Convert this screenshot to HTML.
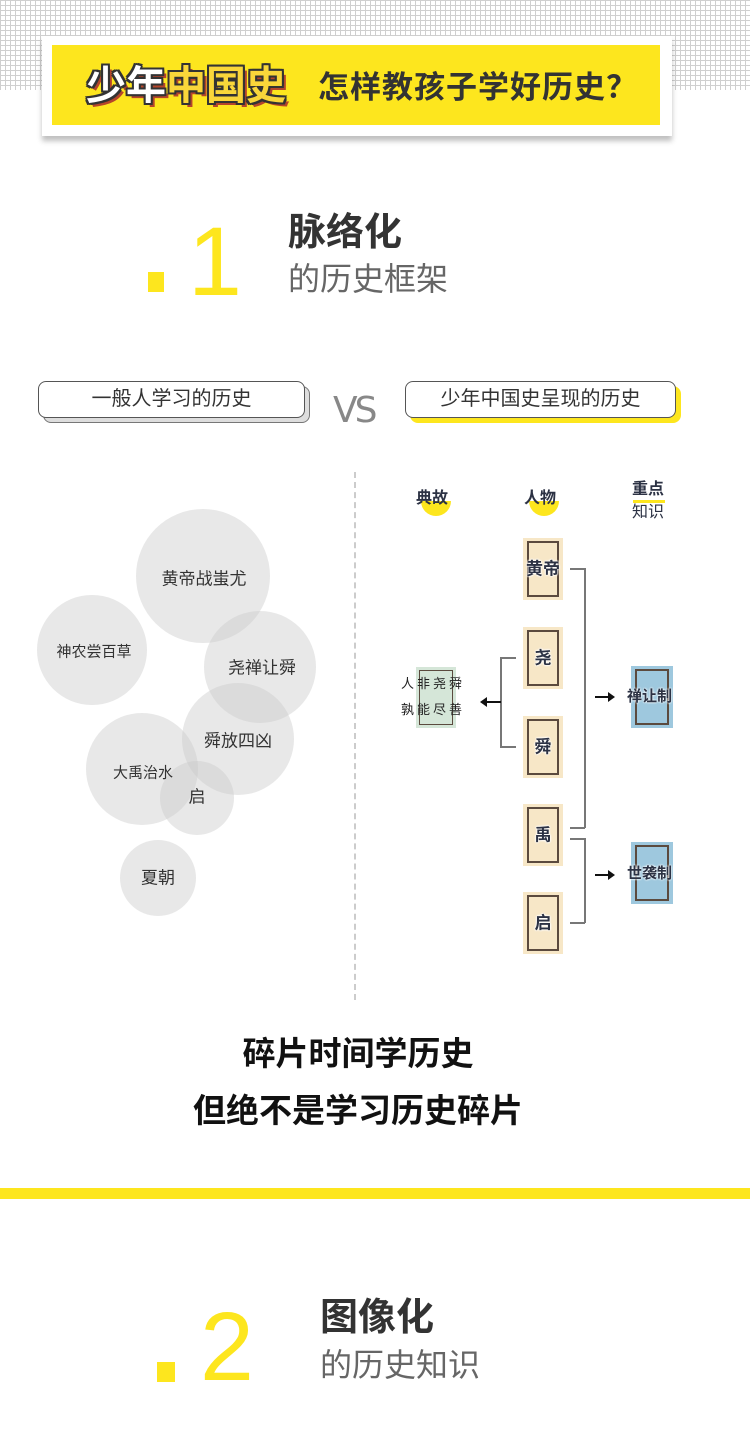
<!DOCTYPE html>
<html><head><meta charset="utf-8">
<style>
*{margin:0;padding:0;box-sizing:border-box}
body{width:750px;height:1445px;background:#fff;position:relative;overflow:hidden;font-family:"Liberation Sans","Noto Sans CJK SC",sans-serif}
.a{position:absolute}
.grid{left:0;top:0;width:750px;height:90px;background-color:#fff;background-image:linear-gradient(#cfcfcf 1px,transparent 1px),linear-gradient(90deg,#cfcfcf 1px,transparent 1px);background-size:5px 5px}
.t{white-space:nowrap;line-height:1}
.circ{border-radius:50%;background:rgba(200,200,200,0.42)}
.ct{position:absolute;white-space:nowrap;color:#333;font-size:17px;line-height:1;transform:translate(-50%,-50%)}
.pb{background:#f7e7c7;width:40px;height:62px}
.pb:after{content:"";position:absolute;left:4px;top:3px;right:4px;bottom:3px;border:2px solid #5b4a3e}
.pt{position:absolute;left:-4px;width:48px;text-align:center;top:50%;transform:translateY(-50%);font-size:17px;font-weight:bold;color:#2c3244;z-index:2;line-height:1;text-shadow:0 0 2px #fff,0 0 2px #fff,0 0 2px #fff}
.ln{background:#777}
.logo{text-shadow:-2px -2px 0 #333,2px -2px 0 #333,-2px 2px 0 #333,2px 2px 0 #333,0 -2px 0 #333,0 2px 0 #333,-2px 0 0 #333,2px 0 0 #333,4px 4px 0 #b5452a}
</style></head><body>
<div class="a grid"></div>
<div class="a" style="left:42px;top:36px;width:630px;height:100px;background:#fff;box-shadow:0 5px 5px rgba(0,0,0,0.25)"></div>
<div class="a" style="left:52px;top:45px;width:608px;height:80px;background:#fde61e"></div>
<div class="a t logo" style="left:86px;top:66px;font-size:40px;font-weight:bold;color:#fff">少年<span style="color:#f9d63a">中国史</span></div>
<div class="a t" style="left:318px;top:72px;font-size:31px;font-weight:bold;color:#333;letter-spacing:1px">怎样教孩子学好历史？</div>

<div class="a" style="left:148px;top:272px;width:16px;height:20px;background:#fde61e"></div>
<div class="a t" style="left:188px;top:213px;font-size:97px;color:#fde61e">1</div>
<div class="a t" style="left:288px;top:214px;font-size:38px;font-weight:bold;color:#333">脉络化</div>
<div class="a t" style="left:288px;top:263px;font-size:32px;color:#666">的历史框架</div>

<div class="a" style="left:43px;top:386px;width:267px;height:37px;border-radius:8px;background:#ddd;border:1px solid #777"></div>
<div class="a" style="left:38px;top:381px;width:267px;height:37px;border-radius:8px;background:#fff;border:1.5px solid #555;font-size:20px;color:#333;text-align:center;line-height:35px">一般人学习的历史</div>
<div class="a t" style="left:333px;top:393px;font-size:36px;color:#888;font-family:'DejaVu Sans',sans-serif;letter-spacing:-3px">VS</div>
<div class="a" style="left:410px;top:386px;width:271px;height:37px;border-radius:8px;background:#fde61e"></div>
<div class="a" style="left:405px;top:381px;width:271px;height:37px;border-radius:8px;background:#fff;border:1.5px solid #555;font-size:20px;color:#333;text-align:center;line-height:35px">少年中国史呈现的历史</div>

<div class="a" style="left:354px;top:472px;height:528px;border-left:2px dashed #ccc"></div>

<div class="a circ" style="left:136px;top:509px;width:134px;height:134px"></div>
<div class="a circ" style="left:37px;top:595px;width:110px;height:110px"></div>
<div class="a circ" style="left:204px;top:611px;width:112px;height:112px"></div>
<div class="a circ" style="left:182px;top:683px;width:112px;height:112px"></div>
<div class="a circ" style="left:86px;top:713px;width:112px;height:112px"></div>
<div class="a circ" style="left:160px;top:761px;width:74px;height:74px"></div>
<div class="a circ" style="left:120px;top:840px;width:76px;height:76px"></div>
<div class="ct" style="left:204px;top:579px">黄帝战蚩尤</div>
<div class="ct" style="left:94px;top:652px;font-size:15px">神农尝百草</div>
<div class="ct" style="left:262px;top:668px">尧禅让舜</div>
<div class="ct" style="left:238px;top:741px">舜放四凶</div>
<div class="ct" style="left:143px;top:773px;font-size:15px">大禹治水</div>
<div class="ct" style="left:197px;top:797px">启</div>
<div class="ct" style="left:158px;top:878px">夏朝</div>

<div class="a" style="left:421px;top:486px;width:30px;height:30px;border-radius:50%;background:#fde61e;clip-path:inset(50% 0 0 0)"></div>
<div class="a" style="left:529px;top:486px;width:30px;height:30px;border-radius:50%;background:#fde61e;clip-path:inset(50% 0 0 0)"></div>
<div class="a t" style="left:416px;top:491px;font-size:16px;font-weight:bold;color:#2c3244">典故</div>
<div class="a t" style="left:524px;top:491px;font-size:16px;font-weight:bold;color:#2c3244">人物</div>
<div class="a" style="left:633px;top:500px;width:32px;height:3px;background:#fde61e"></div>
<div class="a t" style="left:632px;top:482px;font-size:16px;font-weight:bold;color:#2c3244">重点</div>
<div class="a t" style="left:632px;top:505px;font-size:16px;color:#2c3244">知识</div>

<div class="a pb" style="left:523px;top:538px"><span class="pt">黄帝</span></div>
<div class="a pb" style="left:523px;top:627px"><span class="pt">尧</span></div>
<div class="a pb" style="left:523px;top:716px"><span class="pt">舜</span></div>
<div class="a pb" style="left:523px;top:804px"><span class="pt">禹</span></div>
<div class="a pb" style="left:523px;top:892px"><span class="pt">启</span></div>

<div class="a ln" style="left:570px;top:568px;width:15px;height:1.5px"></div>
<div class="a ln" style="left:584px;top:568px;width:1.5px;height:260px"></div>
<div class="a ln" style="left:570px;top:827px;width:15px;height:1.5px"></div>
<div class="a ln" style="left:570px;top:838px;width:15px;height:1.5px"></div>
<div class="a ln" style="left:584px;top:838px;width:1.5px;height:85px"></div>
<div class="a ln" style="left:570px;top:922px;width:15px;height:1.5px"></div>

<div class="a" style="left:595px;top:696px;width:14px;height:2px;background:#111"></div>
<div class="a" style="left:608px;top:692px;border-left:7px solid #111;border-top:5px solid transparent;border-bottom:5px solid transparent"></div>
<div class="a" style="left:595px;top:874px;width:14px;height:2px;background:#111"></div>
<div class="a" style="left:608px;top:870px;border-left:7px solid #111;border-top:5px solid transparent;border-bottom:5px solid transparent"></div>

<div class="a" style="left:631px;top:666px;width:42px;height:62px;background:#9ec8de"><div class="a" style="left:4px;top:3px;right:4px;bottom:3px;border:2px solid #5b4a3e"></div></div>
<div class="a t" style="left:627px;top:689px;font-size:15px;font-weight:bold;color:#2c3244;text-shadow:0 0 2px #fff,0 0 2px #fff">禅让制</div>
<div class="a" style="left:631px;top:842px;width:42px;height:62px;background:#9ec8de"><div class="a" style="left:4px;top:3px;right:4px;bottom:3px;border:2px solid #5b4a3e"></div></div>
<div class="a t" style="left:627px;top:866px;font-size:15px;font-weight:bold;color:#2c3244;text-shadow:0 0 2px #fff,0 0 2px #fff">世袭制</div>

<div class="a ln" style="left:500px;top:657px;width:1.5px;height:90px"></div>
<div class="a ln" style="left:500px;top:657px;width:16px;height:1.5px"></div>
<div class="a ln" style="left:500px;top:746px;width:16px;height:1.5px"></div>
<div class="a" style="left:486px;top:701px;width:15px;height:2px;background:#111"></div>
<div class="a" style="left:480px;top:697px;border-right:7px solid #111;border-top:5px solid transparent;border-bottom:5px solid transparent"></div>
<div class="a" style="left:416px;top:667px;width:40px;height:61px;background:#d5e6d8"><div class="a" style="left:3px;top:3px;right:3px;bottom:3px;border:1.5px solid #5b4a3e"></div></div>
<div class="a t" style="left:401px;top:677px;font-size:13px;color:#222;letter-spacing:3px">人非尧舜</div>
<div class="a t" style="left:401px;top:703px;font-size:13px;color:#222;letter-spacing:3px">孰能尽善</div>

<div class="a t" style="left:0;width:716px;text-align:center;top:1037px;font-size:33px;font-weight:bold;color:#111">碎片时间学历史</div>
<div class="a t" style="left:0;width:716px;text-align:center;top:1094px;font-size:33px;font-weight:bold;color:#111">但绝不是学习历史碎片</div>

<div class="a" style="left:0;top:1188px;width:750px;height:11px;background:#fde61e"></div>

<div class="a" style="left:157px;top:1362px;width:18px;height:20px;background:#fde61e"></div>
<div class="a t" style="left:200px;top:1298px;font-size:97px;color:#fde61e">2</div>
<div class="a t" style="left:320px;top:1299px;font-size:38px;font-weight:bold;color:#333">图像化</div>
<div class="a t" style="left:320px;top:1349px;font-size:32px;color:#666">的历史知识</div>
</body></html>
